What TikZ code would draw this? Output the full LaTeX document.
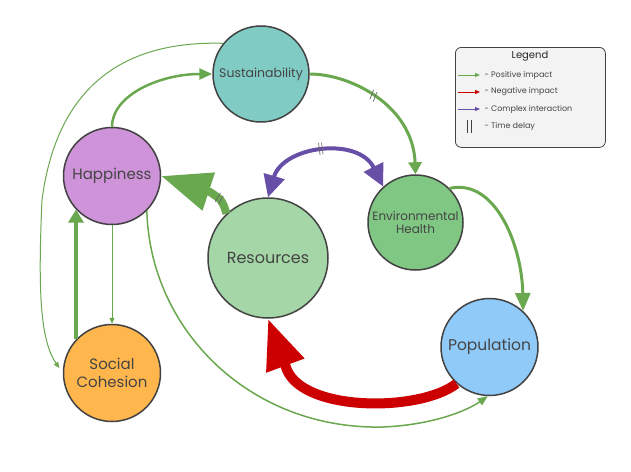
\documentclass[tikz,border=0pt]{standalone}
\usepackage{fontspec}
\setmainfont{Poppins}
\usetikzlibrary{arrows.meta,decorations.markings}
\definecolor{posc}{HTML}{6AA84F}
\definecolor{negc}{HTML}{CC0000}
\definecolor{cxc}{HTML}{674EA7}
\definecolor{edgec}{HTML}{424242}
\definecolor{txtc}{HTML}{444444}
\definecolor{cSus}{HTML}{80CBC4}
\definecolor{cHap}{HTML}{CE93D8}
\definecolor{cSoc}{HTML}{FFB74D}
\definecolor{cRes}{HTML}{A5D6A7}
\definecolor{cEnv}{HTML}{81C784}
\definecolor{cPop}{HTML}{90CAF9}
\definecolor{legfill}{HTML}{F3F3F3}
\newcommand{\fsz}[2]{\fontsize{#1}{#2}\selectfont}
\tikzset{
  nd/.style={circle, draw=edgec, line width=1.5pt, inner sep=0pt, text=txtc, align=center},
  posline/.style={draw=posc},
  negline/.style={draw=negc},
  cxline/.style={draw=cxc},
  dmark/.style={draw=edgec!80, line width=0.7pt, arrows=-},
  delayat/.style={postaction={decorate, decoration={markings, mark=at position #1 with {
      \draw[dmark] (-2.5,-5) -- (0,5) (1.5,-5) -- (4,5);}}}},
  delaystraight/.style={postaction={decorate, decoration={markings, mark=at position #1 with {
      \draw[dmark] (-1.5,-6) -- (-1.5,6) (1.5,-6) -- (1.5,6);}}}},
  legtext/.style={anchor=west, text=txtc, font=\fsz{8}{9}},
}
\begin{document}
\begin{tikzpicture}[x=1pt, y=-1pt]
\useasboundingbox (0,0) rectangle (631,471);

% legend
\node[draw=edgec, line width=0.8pt, fill=legfill, rounded corners=6pt, minimum width=150pt, minimum height=100pt, anchor=north west] (legbox) at (455,47) {};
\node[text=black!85, font=\fsz{10}{12}] (legtitle) at (530,56) {Legend};
\coordinate (la1) at (458,75); \coordinate (lb1) at (480,75);
\coordinate (la2) at (458,92); \coordinate (lb2) at (480,92);
\coordinate (la3) at (458,109); \coordinate (lb3) at (480,109);
\draw[posc, line width=0.8pt, -{Triangle[length=5pt,width=4pt]}] (la1) -- (lb1);
\draw[negc, line width=0.8pt, -{Triangle[length=5pt,width=4pt]}] (la2) -- (lb2);
\draw[cxc, line width=0.8pt, -{Triangle[length=5pt,width=4pt]}] (la3) -- (lb3);
\draw[edgec, line width=0.8pt] (467,120) -- (467,133) (471,120) -- (471,133);
\node[legtext] (lt1) at (481,75) {- Positive impact};
\node[legtext] (lt2) at (481,92) {- Negative impact};
\node[legtext] (lt3) at (481,109) {- Complex interaction};
\node[legtext] (lt4) at (481,126) {- Time delay};

% nodes
\node[nd, fill=cSus, minimum size=96pt, font=\fsz{12.5}{15}] (sus) at (261,74) {Sustainability};
\node[nd, fill=cHap, minimum size=97pt, font=\fsz{15}{18}] (hap) at (112,176) {Happiness};
\node[nd, fill=cSoc, minimum size=97pt, font=\fsz{15}{18}] (soc) at (112,373) {Social\\Cohesion};
\node[nd, fill=cRes, minimum size=120pt, font=\fsz{16}{19}] (res) at (268,258) {Resources};
\node[nd, fill=cEnv, minimum size=95pt, font=\fsz{12}{13.5}] (env) at (415.5,222.5) {Environmental\\Health};
\node[nd, fill=cPop, minimum size=97pt, font=\fsz{15.5}{18}] (pop) at (489.5,347) {Population};

% connectors
% Happiness -> Sustainability
\draw[posline, line width=2.5pt, -{Triangle[length=13pt,width=11pt]}]
  (hap.north) .. controls (112,95) and (160,74) .. (sus.west);
% Sustainability -> Environmental Health (delay)
\draw[posline, line width=3pt, -{Triangle[length=12pt,width=13pt]}, delayat=0.42]
  (sus.east) .. controls (350,74) and (413,105) .. (env.north);
% Sustainability -> Social Cohesion (thin)
\draw[posline, line width=1pt, shorten >=6pt, -{Triangle[length=6pt,width=5pt]}]
  (sus.141) .. controls (110,40) and (55,100) .. (42,200)
  .. controls (38,290) and (40,340) .. (soc.west);
% Happiness -> Social Cohesion (thin)
\draw[posline, line width=1pt, -{Triangle[length=6pt,width=5pt]}] (hap.south) -- (soc.north);
% Social Cohesion -> Happiness
\draw[posline, line width=4pt, -{Triangle[length=13pt,width=15pt]}] (soc.137) -- (hap.223);
% Happiness -> Population (thin)
\draw[posline, line width=1.5pt, -{Triangle[length=10pt,width=8pt]}]
  (hap.-45) .. controls (150,330) and (250,430) .. (383,427)
  .. controls (430,425) and (465,412) .. (pop.-92);
% Resources -> Happiness (delay)
\draw[posline, line width=8pt, -{Triangle[length=50pt,width=38pt]}, delayat=16pt]
  (res.133) .. controls (222,200) .. (210,192) -- (hap.east);
% Resources <-> Environmental Health
\draw[cxline, line width=4pt, {Triangle[length=22pt,width=21pt]}-{Triangle[length=22pt,width=21pt]}]
  (res.north) .. controls (283,146) and (358,136) .. (env.132);
% its delay mark, on the visible part of that curve
\path[delaystraight=0.5] (274,177) .. controls (283,146) and (358,136) .. (372,166);
% Environmental Health -> Population
\draw[posline, line width=3pt, -{Triangle[length=18pt,width=15pt]}]
  (env.45) .. controls (495,178) and (522,245) .. (pop.47);
% Population -> Resources (negative)
\draw[negline, line width=10pt, -{Triangle[length=50pt,width=38pt]}]
  (pop.228) .. controls (420,412) and (305,412) .. (287,370) -- (res.south);
\end{tikzpicture}
\end{document}
